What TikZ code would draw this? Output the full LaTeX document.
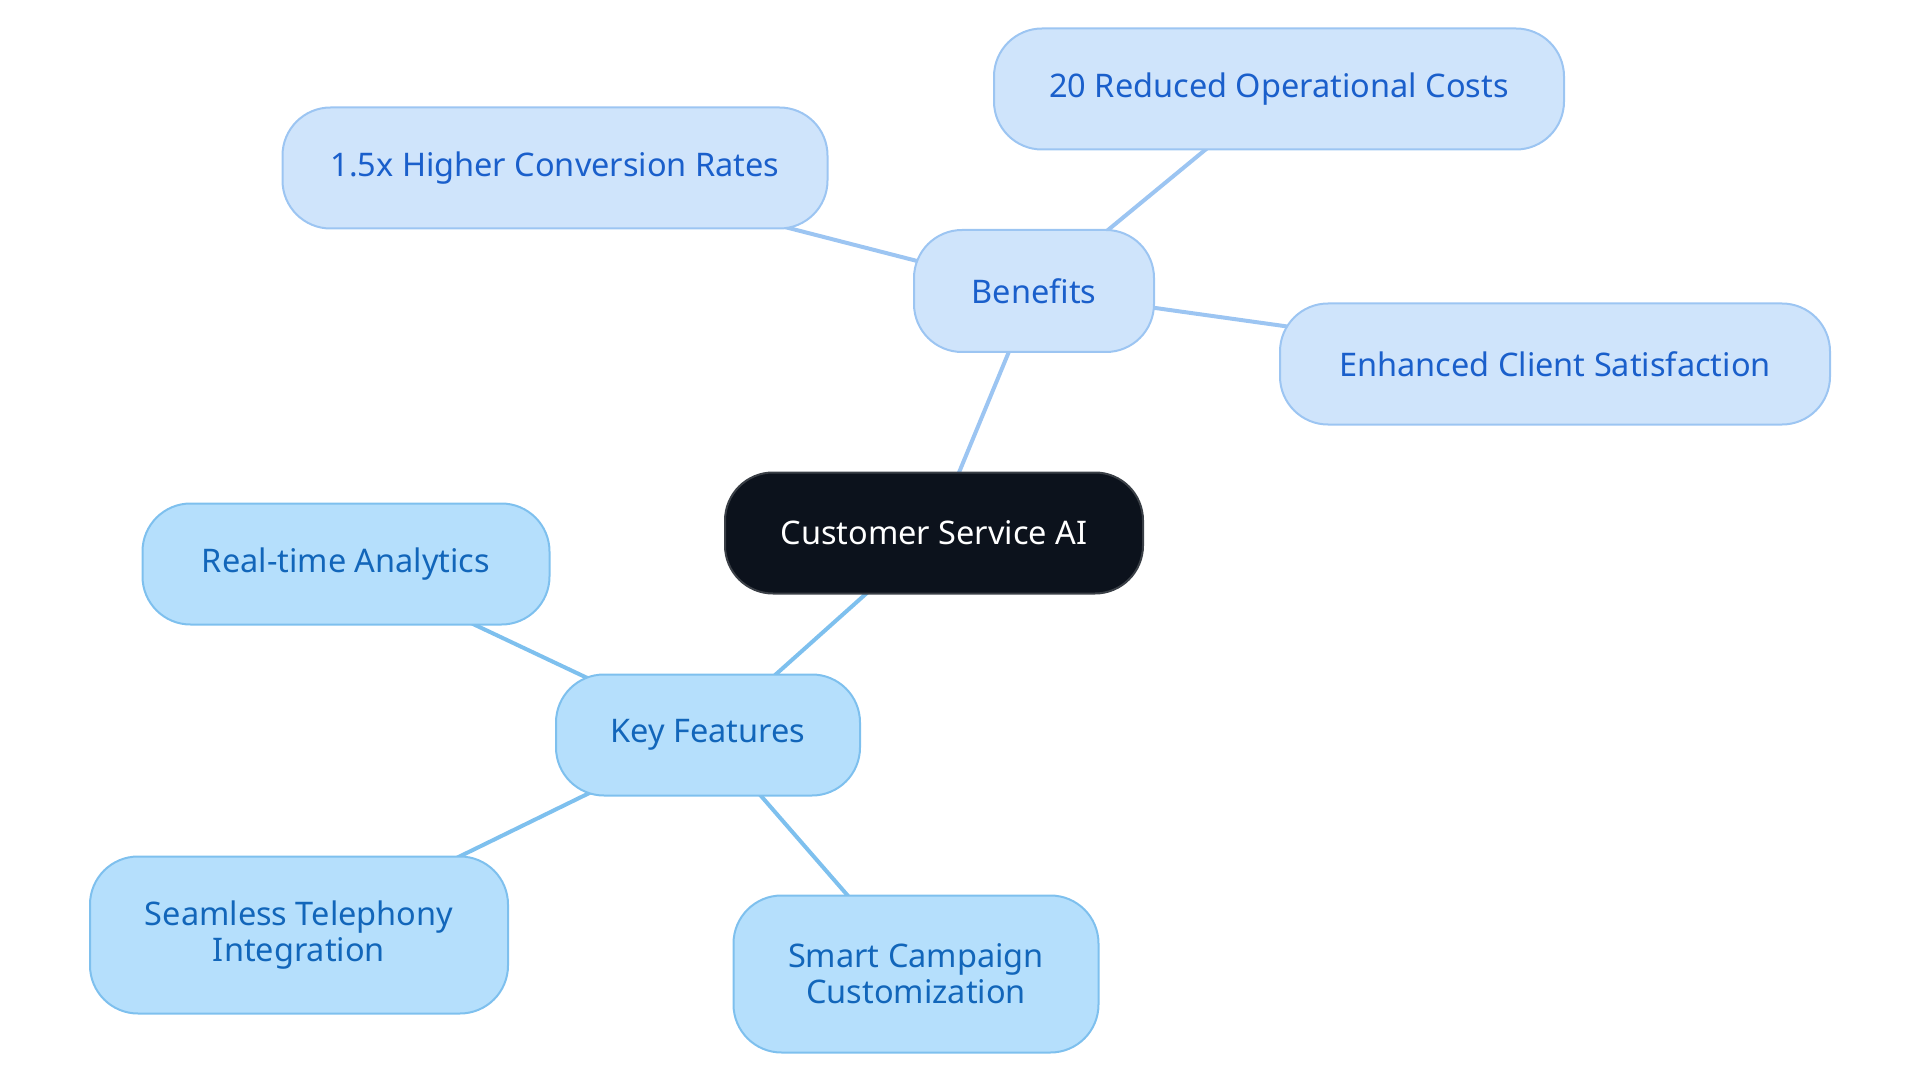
\documentclass[tikz,border=0pt]{standalone}
\usepackage{fontspec}
\setmainfont{Noto Sans}
\usetikzlibrary{backgrounds}
\definecolor{benfill}{HTML}{CFE4FB}
\definecolor{bendraw}{HTML}{9CC5F2}
\definecolor{bentext}{HTML}{1A5FCB}
\definecolor{keyfill}{HTML}{B5DFFC}
\definecolor{keydraw}{HTML}{7EC0EE}
\definecolor{keytext}{HTML}{1266BA}
\definecolor{rootfill}{HTML}{0C121C}
\definecolor{rootdraw}{HTML}{3A3F46}
\tikzset{
  box/.style={rounded corners=48pt, line width=2pt, inner sep=0pt, align=center,
    font=\fontsize{32.5}{36}\selectfont},
  rootbox/.style={box, fill=rootfill, draw=rootdraw, text=white},
  benbox/.style={box, fill=benfill, draw=bendraw, text=bentext},
  keybox/.style={box, fill=keyfill, draw=keydraw, text=keytext},
  benedge/.style={draw=bendraw, line width=4pt},
  keyedge/.style={draw=keydraw, line width=4pt},
}
\begin{document}
\begin{tikzpicture}[x=1pt,y=-1pt]
\useasboundingbox (0,0) rectangle (1920,1083);
\node[rootbox, minimum width=418pt, minimum height=121pt] (root) at (934,533) {Customer Service AI};
\node[benbox, minimum width=240pt, minimum height=122pt] (ben) at (1034,291) {Benefits};
\node[benbox, minimum width=570pt, minimum height=121pt] (cost) at (1279,89) {20 Reduced Operational Costs};
\node[benbox, minimum width=545pt, minimum height=121pt] (conv) at (555,168) {1.5x Higher Conversion Rates};
\node[benbox, minimum width=550pt, minimum height=121pt] (sat) at (1555,364) {Enhanced Client Satisfaction};
\node[keybox, minimum width=304pt, minimum height=121pt] (key) at (708,735) {Key Features};
\node[keybox, minimum width=407pt, minimum height=121pt] (rta) at (346,564) {Real-time Analytics};
\node[keybox, minimum width=418pt, minimum height=157pt] (tel) at (299,935) {Seamless Telephony\\Integration};
\node[keybox, minimum width=365pt, minimum height=157pt] (camp) at (916,974) {Smart Campaign\\Customization};
\begin{scope}[on background layer]
\draw[benedge] (root.center) -- (ben.center);
\draw[benedge] (ben.center) -- (cost.center);
\draw[benedge] (ben.center) -- (conv.center);
\draw[benedge] (ben.center) -- (sat.center);
\draw[keyedge] (root.center) -- (key.center);
\draw[keyedge] (key.center) -- (rta.center);
\draw[keyedge] (key.center) -- (tel.center);
\draw[keyedge] (key.center) -- (camp.center);
\end{scope}
\end{tikzpicture}
\end{document}
